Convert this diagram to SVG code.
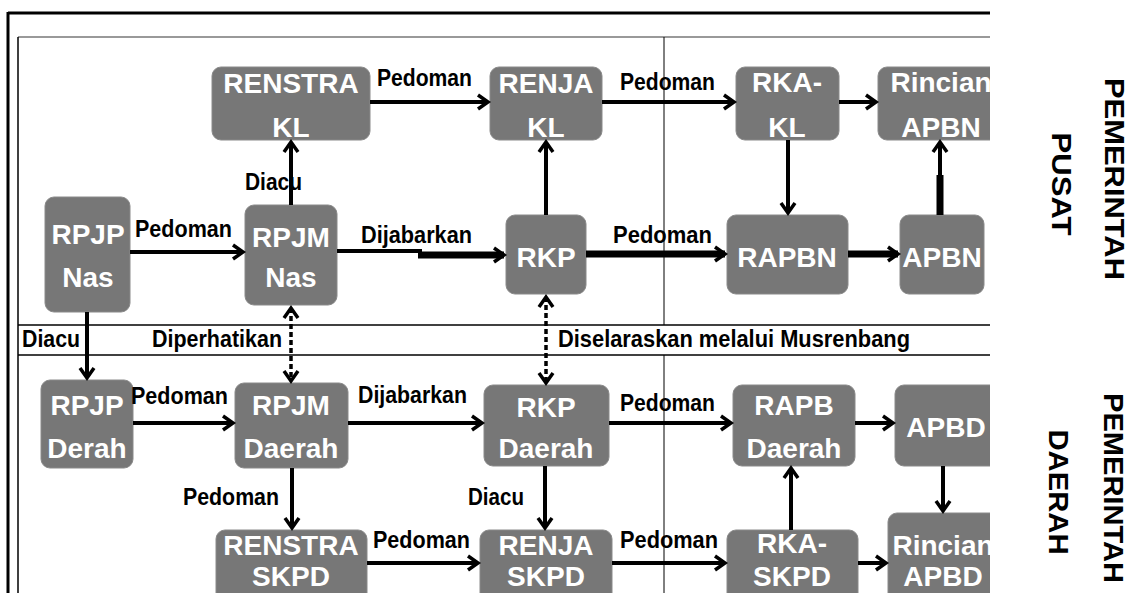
<svg xmlns="http://www.w3.org/2000/svg" width="1139" height="593" viewBox="0 0 1139 593">
<style>
.node rect{fill:#777777;stroke:#8a8a8a;stroke-width:1}
.nt{font-family:"Liberation Sans",Arial,sans-serif;font-weight:bold;font-size:28px;fill:#ffffff;text-anchor:middle}
.lb{font-family:"Liberation Sans",Arial,sans-serif;font-weight:bold;font-size:23px;fill:#000000}
.side{font-family:"Liberation Sans",Arial,sans-serif;font-weight:bold;font-size:28px;fill:#000000;text-anchor:middle}
.c{fill:none;stroke:#000;stroke-width:4}
.ck{fill:none;stroke:#000;stroke-width:7}
.cd{fill:none;stroke:#000;stroke-width:3.5;stroke-dasharray:5 3}
.frame{fill:none;stroke:#000}
</style>
<defs>
<clipPath id="clip"><rect x="0" y="0" width="990" height="593"/></clipPath>
<marker id="ah" markerUnits="userSpaceOnUse" markerWidth="16" markerHeight="18" refX="12" refY="9" orient="auto-start-reverse" viewBox="0 0 16 18">
<path d="M2,2 L12,9 L2,16" fill="none" stroke="#000" stroke-width="3.5"/>
</marker>
</defs>
<rect x="0" y="0" width="1139" height="593" fill="#ffffff"/>
<g id="frame" clip-path="url(#clip)">
<line class="frame" x1="8" y1="13" x2="990" y2="13" stroke-width="3"/>
<line class="frame" x1="8" y1="12" x2="8" y2="593" stroke-width="3"/>
<line x1="18" y1="37" x2="990" y2="37" stroke="#777" stroke-width="1.5"/>
<line class="frame" x1="18" y1="37" x2="18" y2="593" stroke-width="1.5"/>
<line class="frame" x1="18" y1="325" x2="990" y2="325" stroke-width="1.5"/>
<line class="frame" x1="18" y1="355" x2="990" y2="355" stroke-width="1.5"/>
<line class="frame" x1="664" y1="37" x2="664" y2="325" stroke-width="1"/>
<line class="frame" x1="664" y1="355" x2="664" y2="593" stroke-width="1"/>
</g>
<g id="nodes" clip-path="url(#clip)">
<g id="renstra-kl" class="node"><rect x="212" y="67" width="158" height="73" rx="9"/><text class="nt" x="291" y="93">RENSTRA</text><text class="nt" x="291" y="137">KL</text></g>
<g id="renja-kl" class="node"><rect x="490" y="67" width="112" height="73" rx="9"/><text class="nt" x="546" y="93">RENJA</text><text class="nt" x="546" y="137">KL</text></g>
<g id="rka-kl" class="node"><rect x="736" y="67" width="103" height="73" rx="9"/><text class="nt" x="787" y="92">RKA-</text><text class="nt" x="787" y="137">KL</text></g>
<g id="rincian-apbn" class="node"><rect x="878" y="67" width="126" height="73" rx="9"/><text class="nt" x="941" y="92">Rincian</text><text class="nt" x="941" y="137">APBN</text></g>
<g id="rpjp-nas" class="node"><rect x="45" y="197" width="85" height="115" rx="9"/><text class="nt" x="88" y="244">RPJP</text><text class="nt" x="88" y="287">Nas</text></g>
<g id="rpjm-nas" class="node"><rect x="245" y="205" width="92" height="100" rx="9"/><text class="nt" x="291" y="247">RPJM</text><text class="nt" x="291" y="287">Nas</text></g>
<g id="rkp" class="node"><rect x="506" y="215" width="80" height="79" rx="9"/><text class="nt" x="546" y="267">RKP</text></g>
<g id="rapbn" class="node"><rect x="727" y="215" width="121" height="79" rx="9"/><text class="nt" x="787" y="267">RAPBN</text></g>
<g id="apbn" class="node"><rect x="900" y="215" width="84" height="79" rx="9"/><text class="nt" x="942" y="267">APBN</text></g>
<g id="rpjp-derah" class="node"><rect x="41" y="380" width="92" height="88" rx="9"/><text class="nt" x="87" y="415">RPJP</text><text class="nt" x="87" y="458">Derah</text></g>
<g id="rpjm-daerah" class="node"><rect x="235" y="383" width="113" height="85" rx="9"/><text class="nt" x="291" y="415">RPJM</text><text class="nt" x="291" y="458">Daerah</text></g>
<g id="rkp-daerah" class="node"><rect x="484" y="385" width="125" height="81" rx="9"/><text class="nt" x="546" y="417">RKP</text><text class="nt" x="546" y="458">Daerah</text></g>
<g id="rapb-daerah" class="node"><rect x="733" y="385" width="122" height="81" rx="9"/><text class="nt" x="794" y="415">RAPB</text><text class="nt" x="794" y="458">Daerah</text></g>
<g id="apbd" class="node"><rect x="895" y="385" width="105" height="81" rx="9"/><text class="nt" x="946" y="437">APBD</text></g>
<g id="renstra-skpd" class="node"><rect x="216" y="530" width="151" height="80" rx="9"/><text class="nt" x="291" y="555">RENSTRA</text><text class="nt" x="291" y="586">SKPD</text></g>
<g id="renja-skpd" class="node"><rect x="480" y="530" width="132" height="80" rx="9"/><text class="nt" x="546" y="555">RENJA</text><text class="nt" x="546" y="586">SKPD</text></g>
<g id="rka-skpd" class="node"><rect x="727" y="530" width="131" height="80" rx="9"/><text class="nt" x="792" y="553">RKA-</text><text class="nt" x="792" y="586">SKPD</text></g>
<g id="rincian-apbd" class="node"><rect x="888" y="513" width="116" height="97" rx="9"/><text class="nt" x="943" y="555">Rincian</text><text class="nt" x="943" y="586">APBD</text></g>
</g>
<g id="connectors" clip-path="url(#clip)">
<path class="c" d="M370,102 H488" marker-end="url(#ah)"/>
<path class="c" d="M602,102 H734" marker-end="url(#ah)"/>
<path class="c" d="M839,102 H876" marker-end="url(#ah)"/>
<path class="c" d="M291,205 V142" marker-end="url(#ah)"/>
<path class="c" d="M546,215 V142" marker-end="url(#ah)"/>
<path class="c" d="M788,140 V213" marker-end="url(#ah)"/>
<path class="c" d="M940,215 V142" marker-end="url(#ah)"/>
<path class="ck" d="M940,215 V175"/>
<path class="c" d="M130,252 H243" marker-end="url(#ah)"/>
<path class="c" d="M337,251 H422"/>
<path class="ck" d="M418,255 H504" marker-end="url(#ah)"/>
<path class="ck" d="M586,254 H725" marker-end="url(#ah)"/>
<path class="ck" d="M848,254 H898" marker-end="url(#ah)"/>
<path class="c" d="M87,312 V378" marker-end="url(#ah)"/>
<path class="cd" d="M291,308 V381" marker-start="url(#ah)" marker-end="url(#ah)"/>
<path class="cd" d="M546,297 V383" marker-start="url(#ah)" marker-end="url(#ah)"/>
<path class="c" d="M133,423 H233" marker-end="url(#ah)"/>
<path class="c" d="M348,423 H482" marker-end="url(#ah)"/>
<path class="c" d="M609,423 H731" marker-end="url(#ah)"/>
<path class="c" d="M855,423 H893" marker-end="url(#ah)"/>
<path class="c" d="M943,466 V511" marker-end="url(#ah)"/>
<path class="c" d="M791,530 V468" marker-end="url(#ah)"/>
<path class="c" d="M292,468 V528" marker-end="url(#ah)"/>
<path class="c" d="M545,466 V528" marker-end="url(#ah)"/>
<path class="c" d="M367,563 H478" marker-end="url(#ah)"/>
<path class="c" d="M612,563 H725" marker-end="url(#ah)"/>
<path class="c" d="M858,563 H886" marker-end="url(#ah)"/>
</g>
<g id="labels">
<text class="lb" x="377" y="86" textLength="95" lengthAdjust="spacingAndGlyphs">Pedoman</text>
<text class="lb" x="620" y="90" textLength="95" lengthAdjust="spacingAndGlyphs">Pedoman</text>
<text class="lb" x="245" y="190" textLength="57" lengthAdjust="spacingAndGlyphs">Diacu</text>
<text class="lb" x="135" y="237" textLength="97" lengthAdjust="spacingAndGlyphs">Pedoman</text>
<text class="lb" x="361" y="243" textLength="111" lengthAdjust="spacingAndGlyphs">Dijabarkan</text>
<text class="lb" x="613" y="243" textLength="99" lengthAdjust="spacingAndGlyphs">Pedoman</text>
<text class="lb" x="22" y="347" textLength="58" lengthAdjust="spacingAndGlyphs">Diacu</text>
<text class="lb" x="152" y="347" textLength="130" lengthAdjust="spacingAndGlyphs">Diperhatikan</text>
<text class="lb" x="558" y="347" textLength="352" lengthAdjust="spacingAndGlyphs">Diselaraskan melalui Musrenbang</text>
<text class="lb" x="131" y="404" textLength="97" lengthAdjust="spacingAndGlyphs">Pedoman</text>
<text class="lb" x="358" y="403" textLength="109" lengthAdjust="spacingAndGlyphs">Dijabarkan</text>
<text class="lb" x="620" y="411" textLength="95" lengthAdjust="spacingAndGlyphs">Pedoman</text>
<text class="lb" x="183" y="505" textLength="96" lengthAdjust="spacingAndGlyphs">Pedoman</text>
<text class="lb" x="468" y="505" textLength="56" lengthAdjust="spacingAndGlyphs">Diacu</text>
<text class="lb" x="373" y="548" textLength="97" lengthAdjust="spacingAndGlyphs">Pedoman</text>
<text class="lb" x="620" y="548" textLength="98" lengthAdjust="spacingAndGlyphs">Pedoman</text>
</g>
<g id="side-labels">
<text class="side" transform="translate(1105,179) rotate(90)" textLength="202" lengthAdjust="spacingAndGlyphs">PEMERINTAH</text>
<text class="side" transform="translate(1052,184) rotate(90)" textLength="103" lengthAdjust="spacingAndGlyphs">PUSAT</text>
<text class="side" transform="translate(1104,488) rotate(90)" textLength="190" lengthAdjust="spacingAndGlyphs">PEMERINTAH</text>
<text class="side" transform="translate(1049,492) rotate(90)" textLength="125" lengthAdjust="spacingAndGlyphs">DAERAH</text>
</g>
</svg>
